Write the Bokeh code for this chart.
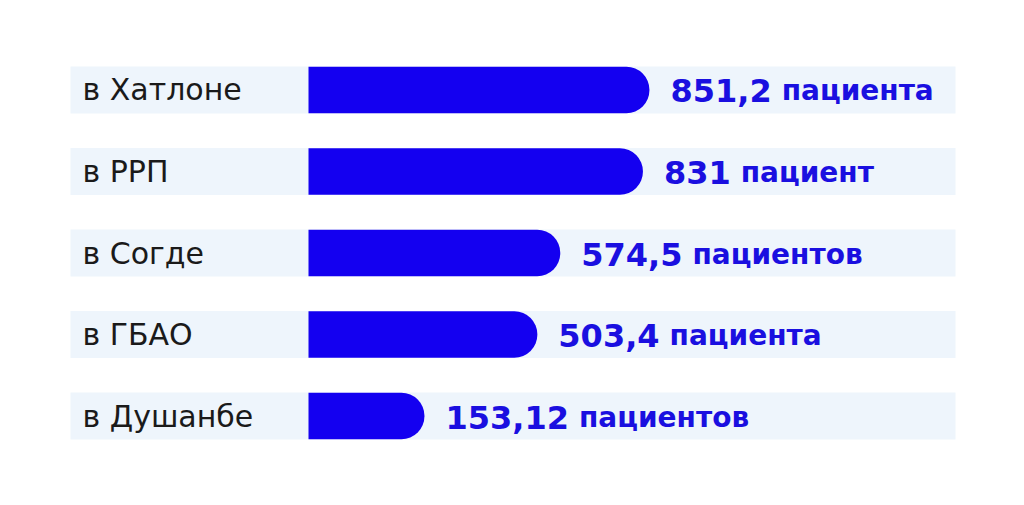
from bokeh.plotting import figure
from bokeh.models import FactorRange, Range1d, ColumnDataSource
from bokeh.core.properties import value
from bokeh.embed import file_html
from bokeh.resources import INLINE

# ---- data ----
regions = ["в Хатлоне", "в РРП", "в Согде", "в ГБАО", "в Душанбе"]
values = [851.2, 831, 574.5, 503.4, 153.12]
value_labels = ["851,2", "831", "574,5", "503,4", "153,12"]
units = ["пациента", "пациент", "пациентов", "пациента", "пациентов"]

# ---- layout / style ----
W, H = 1008, 505
PX = 0.3223          # pixels per data unit
ZERO_PX = 374.6      # screen x of value 0
BAR_START = (308 - ZERO_PX) / PX
BAND_L = (70 - ZERO_PX) / PX
BAND_R = (955 - ZERO_PX) / PX
NUM_FS = 32
UNIT_FS = 28
LABEL_FS = 30
BLUE = "#1400f0"
TEXT_BLUE = "#1a0fe0"
BAND = "#eef5fc"
FONT = "DejaVu Sans"

p = figure(width=W, height=H, output_backend="svg", toolbar_location=None,
           x_range=Range1d(-ZERO_PX / PX, (W - ZERO_PX) / PX),
           y_range=FactorRange(factors=list(reversed(regions)), range_padding=0.2392),
           min_border=0, outline_line_color=None)
p.axis.visible = False
p.grid.visible = False
p.background_fill_color = "white"
p.border_fill_color = "white"

def num_width(s):
    d = sum(c.isdigit() for c in s)
    c = sum(ch == "," for ch in s)
    return NUM_FS * (0.696 * d + 0.38 * c)

src = ColumnDataSource(dict(
    region=regions, val=values, vlab=value_labels, unit=units,
    band_l=[BAND_L] * len(regions), band_r=[BAND_R] * len(regions),
    base=[BAR_START] * len(regions),
    unit_off=[21 + num_width(s) + 10 for s in value_labels],
))

p.hbar(y="region", left="band_l", right="band_r", height=0.575, source=src,
       fill_color=BAND, line_color=None)
p.hbar(y="region", left="base", right="val", height=0.57, source=src,
       fill_color=BLUE, line_color=None, border_radius=(0, 23, 23, 0))

p.text(x="band_l", y="region", text="region", source=src, x_offset=12, y_offset=0,
       text_font=value(FONT), text_font_size=f"{LABEL_FS}px", text_color="#1a1a1a",
       text_baseline="alphabetic", text_align="left")
p.text(x="val", y="region", text="vlab", source=src, x_offset=21, y_offset=1,
       text_font=value(FONT), text_font_size=f"{NUM_FS}px", text_font_style="bold",
       text_color=TEXT_BLUE, text_baseline="alphabetic", text_align="left")
p.text(x="val", y="region", text="unit", source=src, x_offset="unit_off", y_offset=1,
       text_font=value(FONT), text_font_size=f"{UNIT_FS}px", text_font_style="bold",
       text_color=TEXT_BLUE, text_baseline="alphabetic", text_align="left")

open("out.html", "w").write(file_html(p, INLINE))
